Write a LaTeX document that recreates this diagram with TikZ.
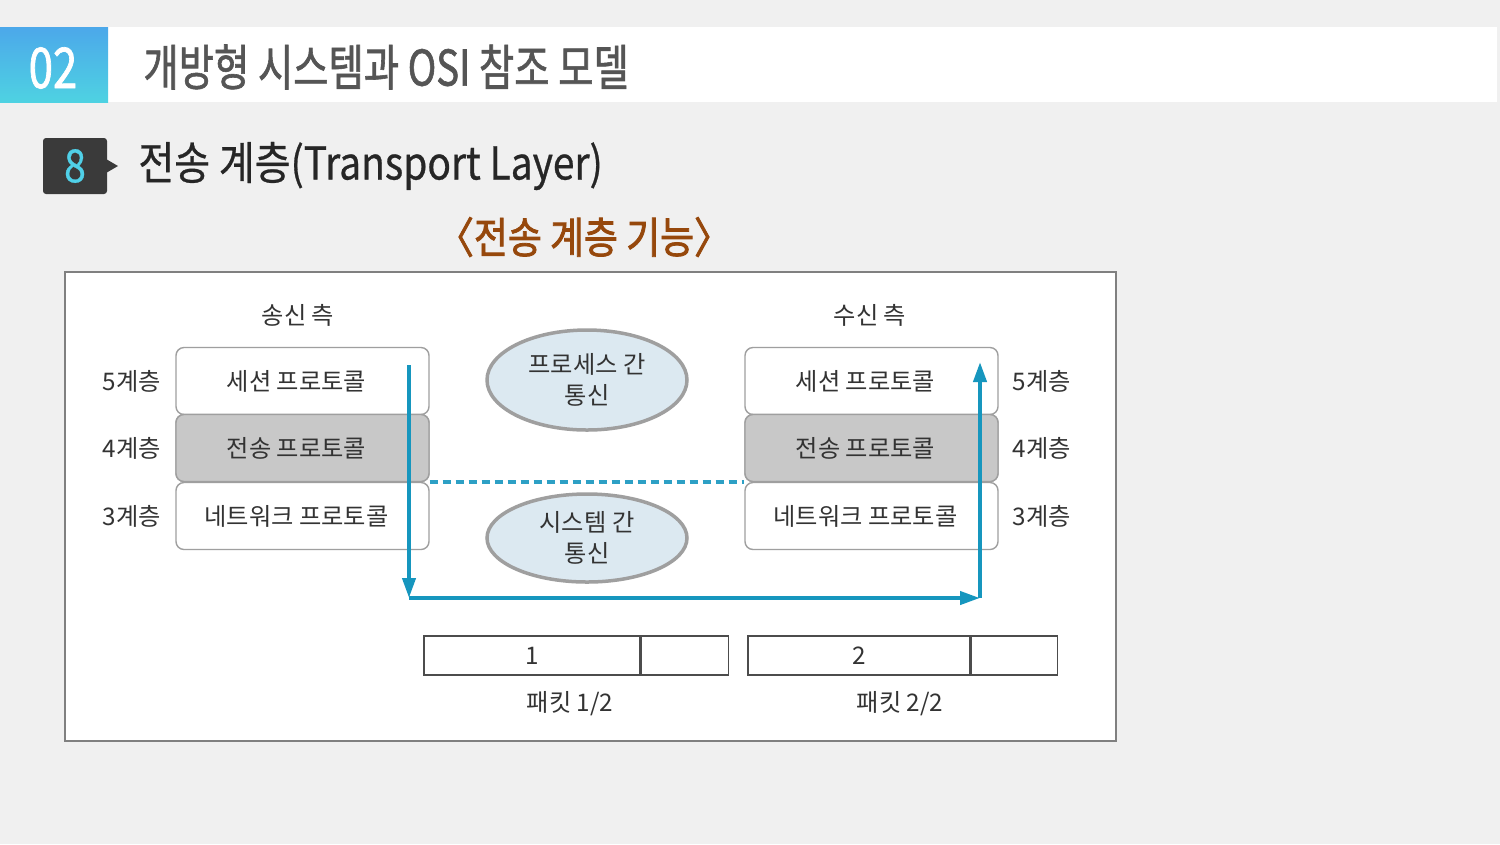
\documentclass[tikz,border=0pt]{standalone}
\usepackage{fontspec}
\setmainfont{Noto Sans CJK KR}
\newfontfamily\headfont[FakeStretch=0.78,FakeBold=1.2]{Noto Sans CJK KR}
\newfontfamily\subfont[FakeStretch=0.86,FakeBold=0.6]{Noto Sans CJK KR}
\newfontfamily\capfont[FakeStretch=0.86,FakeBold=1.8]{Noto Sans CJK KR}
\usetikzlibrary{arrows.meta,shapes.geometric,positioning}
\definecolor{bgcol}{RGB}{240,240,240}
\definecolor{headtxt}{RGB}{85,85,85}
\definecolor{topblue}{RGB}{76,168,234}
\definecolor{botblue}{RGB}{78,210,226}
\definecolor{numbox}{RGB}{58,58,58}
\definecolor{numcyan}{RGB}{80,208,232}
\definecolor{capbrown}{RGB}{150,72,12}
\definecolor{flowblue}{RGB}{22,150,190}
\definecolor{ellfill}{RGB}{220,233,241}
\definecolor{layergray}{RGB}{200,200,200}
\tikzset{
    txt/.style={font=\fontsize{6.9}{9}\selectfont, text=black!80},
    layer/.style={txt, draw=gray!75, rounded corners=0.8mm, minimum width=25.3mm,
        minimum height=6.7mm, inner sep=0pt, fill=white},
    comm/.style={txt, ellipse, draw=gray!75, line width=0.35mm, fill=ellfill,
        minimum width=20mm, align=center, inner sep=0pt},
    packet/.style={txt, draw=black!70, line width=0.15mm, minimum height=3.9mm, inner sep=0pt},
    flow/.style={draw=flowblue, line width=0.4mm},
}
\begin{document}
\begin{tikzpicture}[x=0.1mm,y=-0.1mm]
        \useasboundingbox (0,0) rectangle (1500,844);
        % slide
            \fill[bgcol] (0,0) rectangle (1500,844);
            \fill[white] (108,27) rectangle (1497,102);
            \shade[top color=topblue, bottom color=botblue] (0,27) rectangle (108,102);
            \node[text=white, font=\headfont\fontsize{16}{18}\selectfont] (num) at (53,68) {02};
            \node[anchor=west, text=headtxt, font=\headfont\fontsize{14}{16}\selectfont] (title) at (131,67) {개방형 시스템과 OSI 참조 모델};
            \fill[numbox, rounded corners=0.3mm] (43,138) rectangle (107,194);
            \fill[numbox] (106,159) -- (118,166) -- (106,173) -- cycle;
            \node[text=numcyan, font=\subfont\fontsize{13}{15}\selectfont] (sec) at (75,166) {8};
            \node[anchor=west, text=black!85, font=\subfont\fontsize{12.9}{15}\selectfont] (subtitle) at (126,166) {전송 계층(Transport Layer)};
            \node[text=capbrown, font=\capfont\fontsize{12.2}{14}\selectfont] (caption) at (584,237) {〈전송 계층 기능〉};
        % frame
            \draw[gray, line width=0.2mm, fill=white] (65,272) rectangle (1116,741);
            \node[txt] (send) at (298,315) {송신 측};
            \node[txt] (recv) at (870,315) {수신 측};
        % layers
            \foreach \n/\y/\t in {5/381/세션 프로토콜,4/448/전송 프로토콜,3/516/네트워크 프로토콜}{
                \node[layer] (s\n) at (302.5,\y) {\t\hspace*{1.2mm}};
                \node[layer] (r\n) at (871.5,\y) {\t\hspace*{1.2mm}};
                \node[txt] (ls\n) at (132,\y) {\n{}계층};
                \node[txt] (lr\n) at (1042,\y) {\n{}계층};
            }
            \node[layer, fill=layergray] at (s4) {전송 프로토콜\hspace*{1.2mm}};
            \node[layer, fill=layergray] at (r4) {전송 프로토콜\hspace*{1.2mm}};
        % communication
            \node[comm, minimum height=10mm] (proc) at (587,380) {프로세스 간\\통신};
            \node[comm, minimum height=8.8mm] (sys) at (587,538) {시스템 간\\통신};
            \draw[flow, draw=flowblue!90, dash pattern=on 0.8mm off 0.5mm] (s4.south east) -- (r4.south west);
        % data flow
            \coordinate (top1) at (409,365);
            \coordinate (bot1) at (409,598);
            \coordinate (bot2) at (980,598);
            \coordinate (top2) at (980,362);
            \draw[flow, -{Triangle[length=2mm,width=1.3mm]}] (top1) -- (bot1);
            \draw[flow, -{Triangle[length=2mm,width=1.3mm]}] (bot1) -- (bot2);
            \draw[flow, -{Triangle[length=2mm,width=1.3mm]}] (bot2) -- (top2);
        % packets
            \node[packet, minimum width=21.6mm] (p1) at (532,655.5) {1};
            \node[packet, minimum width=8.7mm, right=0pt of p1] (p1t) {};
            \node[packet, minimum width=22.2mm] (p2) at (859,655.5) {2};
            \node[packet, minimum width=8.6mm, right=0pt of p2] (p2t) {};
            \node[txt] (pk1) at (570,704) {패킷 1/2};
            \node[txt] (pk2) at (900,704) {패킷 2/2};
\end{tikzpicture}
\end{document}
